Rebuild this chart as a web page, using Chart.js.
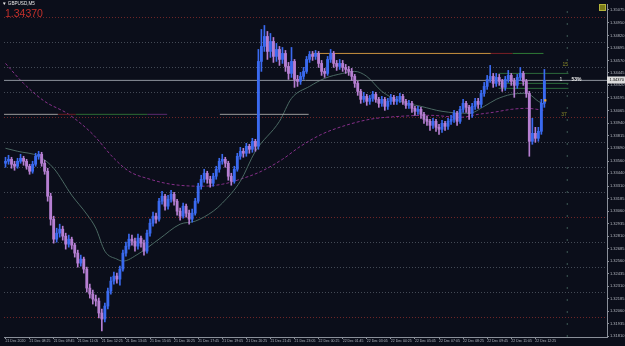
<!DOCTYPE html>
<html><head><meta charset="utf-8">
<script src="https://cdn.jsdelivr.net/npm/chart.js@4/dist/chart.umd.min.js"></script>
<style>
html,body{margin:0;padding:0;background:#0b0e1a;overflow:hidden;}
#wrap{position:relative;width:625px;height:346px;}
canvas{display:block;}
.t{position:absolute;font-family:'Liberation Sans',Arial,sans-serif;white-space:nowrap;line-height:1;}
</style></head><body>
<div id="wrap"><canvas id="c" width="625" height="346"></canvas>
<div class="t" style="left:2px;top:2px;font-size:4.6px;color:#e6e6e6">▼ GBPUSD,M5</div>
<div class="t" style="left:5px;top:8px;font-size:10.5px;color:#c3302b">1.34370</div>
<div style="position:absolute;left:599px;top:4px;width:5px;height:5px;background:#7c7c1a;border:1px solid #b4b43a"></div>
</div>
<script>
const symbolName = "GBPUSD,M5";
const timeLabels = ["21 Dec 2020","21 Dec 08:25","21 Dec 09:45","21 Dec 11:05","21 Dec 12:25","21 Dec 13:45","21 Dec 15:05","21 Dec 16:25","21 Dec 17:45","21 Dec 19:05","21 Dec 20:25","21 Dec 21:45","21 Dec 23:05","22 Dec 00:25","22 Dec 01:45","22 Dec 03:05","22 Dec 04:25","22 Dec 05:45","22 Dec 07:05","22 Dec 08:25","22 Dec 09:45","22 Dec 11:05","22 Dec 12:25"];
const timeLabelBars = [0,8,16,24,32,40,48,56,64,72,80,88,96,104,112,120,128,136,144,152,160,168,176];
const priceTicks = [1.35075,1.34950,1.34820,1.34695,1.34570,1.34445,1.34320,1.34195,1.34065,1.33940,1.33815,1.33690,1.33560,1.33440,1.33310,1.33185,1.33060,1.32935,1.32810,1.32685,1.32560,1.32435,1.32310,1.32185,1.32060,1.31935,1.31810];
const gridLevels = [1.3200,1.3225,1.3250,1.3275,1.3300,1.3325,1.3350,1.3375,1.3400,1.3425,1.3450,1.3475,1.3500];

const opens = [
1.3354,1.3356,1.3358,1.3353,1.3351,1.3356,1.3359,1.3356,1.3351,1.3346,
1.3353,1.3361,1.3363,1.3354,1.3346,1.3321,1.3298,1.3278,1.3284,1.3288,
1.3281,1.3273,1.3278,1.3272,1.3264,1.3254,1.3258,1.3248,1.3229,1.3223,
1.3218,1.3216,1.3204,1.3198,1.3211,1.3226,1.3236,1.3241,1.3238,1.3248,
1.3264,1.3271,1.3278,1.3276,1.3271,1.3279,1.3274,1.3266,1.3284,1.3294,
1.3301,1.3298,1.3316,1.3321,1.3311,1.3318,1.3323,1.3316,1.3306,1.3301,
1.3311,1.3304,1.3298,1.3304,1.3316,1.3331,1.3338,1.3344,1.3338,1.3334,
1.3341,1.3348,1.3356,1.3358,1.3354,1.3341,1.3336,1.3348,1.3361,1.3366,
1.3364,1.3371,1.3368,1.3376,1.3371,1.3456,1.3471,1.3481,1.3466,1.3476,
1.3461,1.3468,1.3458,1.3464,1.3451,1.3444,1.3456,1.3438,1.3436,1.3441,
1.3446,1.3458,1.3463,1.3461,1.3464,1.3454,1.3446,1.3444,1.3458,1.3464,
1.3454,1.3451,1.3454,1.3450,1.3448,1.3446,1.3441,1.3434,1.3426,1.3418,
1.3421,1.3416,1.3419,1.3423,1.3418,1.3414,1.3418,1.3411,1.3416,1.3420,
1.3416,1.3418,1.3421,1.3416,1.3412,1.3414,1.3409,1.3406,1.3408,1.3403,
1.3398,1.3396,1.3392,1.3396,1.3390,1.3388,1.3394,1.3391,1.3396,1.3398,
1.3404,1.3396,1.3408,1.3414,1.3410,1.3404,1.3411,1.3416,1.3413,1.3424,
1.3431,1.3438,1.3441,1.3434,1.3440,1.3436,1.3430,1.3438,1.3442,1.3436,
1.3432,1.3440,1.3444,1.3436,1.3424,1.3376,1.3384,1.3379,1.3386,1.3414];
const closes = [
1.3356,1.3358,1.3353,1.3351,1.3356,1.3359,1.3356,1.3351,1.3346,1.3353,
1.3361,1.3363,1.3354,1.3346,1.3321,1.3298,1.3278,1.3284,1.3288,1.3281,
1.3273,1.3278,1.3272,1.3264,1.3254,1.3258,1.3248,1.3229,1.3223,1.3218,
1.3216,1.3204,1.3198,1.3211,1.3226,1.3236,1.3241,1.3238,1.3248,1.3264,
1.3271,1.3278,1.3276,1.3271,1.3279,1.3274,1.3266,1.3284,1.3294,1.3301,
1.3298,1.3316,1.3321,1.3311,1.3318,1.3323,1.3316,1.3306,1.3301,1.3311,
1.3304,1.3298,1.3304,1.3316,1.3331,1.3338,1.3344,1.3338,1.3334,1.3341,
1.3348,1.3356,1.3358,1.3354,1.3341,1.3336,1.3348,1.3361,1.3366,1.3364,
1.3371,1.3368,1.3376,1.3371,1.3456,1.3471,1.3481,1.3466,1.3476,1.3461,
1.3468,1.3458,1.3464,1.3451,1.3444,1.3456,1.3438,1.3436,1.3441,1.3446,
1.3458,1.3463,1.3461,1.3464,1.3454,1.3446,1.3444,1.3458,1.3464,1.3454,
1.3451,1.3454,1.3450,1.3448,1.3446,1.3441,1.3434,1.3426,1.3418,1.3421,
1.3416,1.3419,1.3423,1.3418,1.3414,1.3418,1.3411,1.3416,1.3420,1.3416,
1.3418,1.3421,1.3416,1.3412,1.3414,1.3409,1.3406,1.3408,1.3403,1.3398,
1.3396,1.3392,1.3396,1.3390,1.3388,1.3394,1.3391,1.3396,1.3398,1.3404,
1.3396,1.3408,1.3414,1.3410,1.3404,1.3411,1.3416,1.3413,1.3424,1.3431,
1.3438,1.3441,1.3434,1.3440,1.3436,1.3430,1.3438,1.3442,1.3436,1.3432,
1.3440,1.3444,1.3436,1.3424,1.3376,1.3384,1.3379,1.3386,1.3414,1.3437];
const highs = [
1.3360,1.3362,1.3360,1.3356,1.3359,1.3363,1.3361,1.3358,1.3353,1.3356,
1.3364,1.3366,1.3365,1.3357,1.3349,1.3324,1.3301,1.3289,1.3293,1.3291,
1.3284,1.3282,1.3280,1.3274,1.3267,1.3262,1.3260,1.3250,1.3233,1.3227,
1.3222,1.3219,1.3208,1.3214,1.3229,1.3240,1.3245,1.3244,1.3251,1.3267,
1.3275,1.3283,1.3282,1.3279,1.3283,1.3281,1.3277,1.3287,1.3298,1.3305,
1.3304,1.3319,1.3326,1.3323,1.3322,1.3327,1.3325,1.3318,1.3309,1.3314,
1.3313,1.3307,1.3308,1.3319,1.3334,1.3342,1.3348,1.3346,1.3341,1.3344,
1.3351,1.3359,1.3363,1.3360,1.3356,1.3344,1.3351,1.3364,1.3370,1.3369,
1.3374,1.3373,1.3379,1.3378,1.3468,1.3488,1.3492,1.3486,1.3484,1.3480,
1.3474,1.3471,1.3470,1.3467,1.3455,1.3470,1.3458,1.3442,1.3445,1.3450,
1.3461,1.3466,1.3466,1.3467,1.3466,1.3457,1.3449,1.3461,1.3468,1.3466,
1.3457,1.3458,1.3457,1.3453,1.3451,1.3449,1.3443,1.3436,1.3428,1.3425,
1.3423,1.3422,1.3426,1.3425,1.3420,1.3421,1.3420,1.3419,1.3423,1.3422,
1.3421,1.3424,1.3423,1.3418,1.3417,1.3416,1.3411,1.3411,1.3410,1.3405,
1.3401,1.3398,1.3399,1.3398,1.3393,1.3397,1.3396,1.3399,1.3402,1.3407,
1.3406,1.3411,1.3418,1.3416,1.3412,1.3414,1.3419,1.3419,1.3427,1.3435,
1.3442,1.3452,1.3444,1.3444,1.3443,1.3438,1.3441,1.3447,1.3444,1.3439,
1.3443,1.3450,1.3446,1.3438,1.3426,1.3399,1.3390,1.3390,1.3418,1.3448];
const lows = [
1.3350,1.3353,1.3349,1.3347,1.3349,1.3354,1.3352,1.3348,1.3343,1.3344,
1.3351,1.3358,1.3351,1.3343,1.3316,1.3292,1.3274,1.3275,1.3280,1.3277,
1.3268,1.3270,1.3268,1.3260,1.3250,1.3251,1.3244,1.3225,1.3219,1.3213,
1.3211,1.3199,1.3186,1.3195,1.3208,1.3223,1.3233,1.3234,1.3232,1.3246,
1.3261,1.3268,1.3272,1.3266,1.3268,1.3270,1.3262,1.3264,1.3281,1.3291,
1.3294,1.3296,1.3313,1.3307,1.3308,1.3315,1.3312,1.3302,1.3297,1.3299,
1.3300,1.3293,1.3295,1.3302,1.3314,1.3328,1.3335,1.3334,1.3330,1.3331,
1.3338,1.3345,1.3353,1.3350,1.3337,1.3332,1.3334,1.3346,1.3358,1.3360,
1.3361,1.3364,1.3365,1.3366,1.3368,1.3446,1.3466,1.3458,1.3460,1.3455,
1.3456,1.3452,1.3454,1.3446,1.3438,1.3440,1.3430,1.3431,1.3433,1.3438,
1.3444,1.3455,1.3457,1.3458,1.3450,1.3442,1.3440,1.3442,1.3455,1.3450,
1.3447,1.3448,1.3446,1.3444,1.3442,1.3437,1.3430,1.3422,1.3414,1.3415,
1.3412,1.3413,1.3416,1.3415,1.3410,1.3411,1.3407,1.3408,1.3413,1.3413,
1.3413,1.3415,1.3413,1.3409,1.3409,1.3405,1.3402,1.3403,1.3399,1.3394,
1.3392,1.3387,1.3389,1.3386,1.3383,1.3385,1.3387,1.3388,1.3393,1.3395,
1.3392,1.3394,1.3405,1.3405,1.3398,1.3400,1.3408,1.3409,1.3410,1.3421,
1.3428,1.3435,1.3430,1.3431,1.3432,1.3426,1.3427,1.3435,1.3432,1.3420,
1.3429,1.3437,1.3432,1.3420,1.3361,1.3373,1.3375,1.3376,1.3383,1.3410];

// moving averages (bar index, price)
const maFastBars = [0,4,11,16,22,27,30,33,37,39,44,51,58,63,69,72,78,83,91,95,101,106,112,116,120,125,131,138,145,154,159,163,168,172,174,177,179];
const maFastValues = [1.3369,1.3366,1.3361,1.3349,1.3322,1.3303,1.3289,1.3266,1.3258,1.3256,1.3263,1.3278,1.3293,1.3296,1.3306,1.3314,1.3336,1.3366,1.3396,1.3419,1.3431,1.3439,1.3444,1.3446,1.3441,1.3426,1.3416,1.3411,1.3406,1.3404,1.3411,1.3418,1.3423,1.3424,1.3423,1.3416,1.3413];
const maSlowBars = [0,6,13,21,29,36,41,48,55,65,72,78,85,92,98,105,112,121,131,141,151,157,162,168,173,179];
const maSlowValues = [1.3454,1.3434,1.3416,1.3403,1.3383,1.3359,1.3346,1.3338,1.3333,1.3331,1.3333,1.3338,1.3346,1.3358,1.3371,1.3383,1.3391,1.3398,1.3401,1.3402,1.3400,1.3403,1.3405,1.3408,1.3409,1.3407];

// horizontal levels
const bidPrice = 1.34370;
const rangeLevelLow = 1.3403;
const rangeLevelHigh = 1.3464;
const rangeLowBreaks = [-1, 17.4, 23.3, 47.1, 53.7];
const rangeLowSecond = [71.2, 100.7];
const rangeHighBreaks = [101.7, 161.2, 168.4, 178.7];
const fibLevels = [1.3444, 1.3434, 1.3429];
const fibSpan = [163.8, 187];
const separatorBar = 186.6;
const markerBar = [179.3];
const markerPrice = [1.3417];
const noteTexts = ["15", "37", "1", "53%"];
const noteBars = [185, 184.6, 184, 188];
const notePrices = [1.3453, 1.3403, 1.3438, 1.3438];

const yMin = 1.3180, yMax = 1.35135, xMin = -0.5, xMax = 199.8;
const BULL = '#3a6af0', BEAR = '#b67fd2';

const idx = closes.map((_, i) => i);
const candleColor = ctx => closes[ctx.dataIndex] >= opens[ctx.dataIndex] ? BULL : BEAR;

function seg(a, b, p, color, extra) {
  return Object.assign({type:'line', data:[{x:a,y:p},{x:b,y:p}], borderColor:color, borderWidth:1,
    pointRadius:0, xAxisID:'x', yAxisID:'y', order:5}, extra || {});
}
const lowColors = ['#9a9a9a', '#6a1f22', '#2d6a34', '#5b2a6e'];
const highColors = ['#c8913e', '#7a2024', '#2f7a36'];
const levelSets = [];
for (let k = 0; k < rangeLowBreaks.length - 1; k++) levelSets.push(seg(rangeLowBreaks[k], rangeLowBreaks[k+1], rangeLevelLow, lowColors[k]));
levelSets.push(seg(rangeLowSecond[0], rangeLowSecond[1], rangeLevelLow, '#9a9a9a'));
for (let k = 0; k < rangeHighBreaks.length - 1; k++) levelSets.push(seg(rangeHighBreaks[k], rangeHighBreaks[k+1], rangeLevelHigh, highColors[k]));
fibLevels.forEach(p => levelSets.push(seg(fibSpan[0], fibSpan[1], p, '#2c6a3c')));
levelSets.push(seg(xMin, xMax, bidPrice, '#8e939c'));

const overlay = {
  id:'overlay',
  afterDraw(chart){
    const {ctx, chartArea, scales:{x, y}} = chart;
    ctx.save();
    const noteColors = ['#8f8f2a', '#8f8f2a', '#e8e8e8', '#e8e8e8'];
    ctx.textBaseline = 'middle';
    noteTexts.forEach((t, k) => {
      ctx.fillStyle = noteColors[k];
      ctx.font = (k === 3 ? 'bold ' : '') + '5px "Liberation Sans"';
      ctx.fillText(t, x.getPixelForValue(noteBars[k]), y.getPixelForValue(notePrices[k]));
    });
    const py = y.getPixelForValue(bidPrice);
    ctx.fillStyle = '#dcdcdc';
    ctx.fillRect(chartArea.right, Math.round(py) - 3.5, 18, 7);
    ctx.fillStyle = '#000';
    ctx.font = '4px "Liberation Sans"';
    ctx.fillText(bidPrice.toFixed(5), chartArea.right + 2.5, py);
    ctx.restore();
  }
};

new Chart(document.getElementById('c'), {
  type:'bar',
  data:{
    datasets:[
      {type:'line', data: maFastBars.map((b,k)=>({x:b,y:maFastValues[k]})), borderColor:'#4b6963', borderWidth:1, pointRadius:0, cubicInterpolationMode:'monotone', xAxisID:'x', yAxisID:'y', order:6},
      {type:'line', data: maSlowBars.map((b,k)=>({x:b,y:maSlowValues[k]})), borderColor:'#86308a', borderWidth:1, borderDash:[3,2], pointRadius:0, cubicInterpolationMode:'monotone', xAxisID:'x', yAxisID:'y', order:6},
      ...levelSets,
      {type:'line', data:[{x:separatorBar,y:yMin},{x:separatorBar,y:yMax}], borderColor:'#3e5a56', borderWidth:1, borderDash:[2,10], pointRadius:0, xAxisID:'x', yAxisID:'y', order:7},
      {label:'wicks', data: idx.map(i=>({x:i, y:[lows[i], highs[i]]})), backgroundColor:candleColor, barThickness:1, grouped:false, xAxisID:'x', yAxisID:'y', order:2},
      {label:'bodies', data: idx.map(i=>({x:i, y:[opens[i], closes[i]]})), backgroundColor:candleColor, barThickness:2.2, minBarLength:1, grouped:false, xAxisID:'x', yAxisID:'y', order:1},
      {type:'line', data: markerBar.map((b,k)=>({x:b,y:markerPrice[k]})), showLine:false, pointStyle:'rect', pointRadius:1.6, pointBackgroundColor:'#f0a830', pointBorderWidth:0, xAxisID:'x', yAxisID:'y', order:0}
    ]
  },
  options:{
    responsive:false, animation:false, events:[],
    layout:{padding:{left:1, top:2, right:0, bottom:0}},
    plugins:{legend:{display:false}, tooltip:{enabled:false}, title:{display:false}},
    scales:{
      x:{type:'linear', min:xMin, max:xMax, position:'bottom', offset:false,
        afterBuildTicks(s){ s.ticks = timeLabelBars.map(v=>({value:v})); },
        afterFit(s){ s.height = 9; s.paddingLeft = 0; s.paddingRight = 0; },
        ticks:{autoSkip:false, maxRotation:0, minRotation:0, align:'start', padding:0, color:'#b4b8c0',
          font:{family:'Liberation Sans', size:3.5}, callback:(v,i)=>timeLabels[i]},
        grid:{offset:false, drawOnChartArea:false, drawTicks:true, tickLength:2, color:'#8a8f99'},
        border:{display:true, color:'#8a8f99', width:1}},
      y:{type:'linear', min:yMin, max:yMax, position:'right',
        afterBuildTicks(s){ s.ticks = priceTicks.map(v=>({value:v})); },
        afterFit(s){ s.width = 18; },
        ticks:{padding:1, color:'#b4b8c0', font:{family:'Liberation Sans', size:4}, callback:v=>v.toFixed(5)},
        grid:{drawOnChartArea:false, drawTicks:true, tickLength:2, color:'#8a8f99'},
        border:{display:true, color:'#8a8f99', width:1}},
      yg:{type:'linear', min:yMin, max:yMax, position:'left',
        afterBuildTicks(s){ s.ticks = gridLevels.map(v=>({value:v})); },
        afterFit(s){ s.width = 0; },
        ticks:{display:false},
        grid:{drawTicks:false, lineWidth:1, color:c => {
          const v = c.tick ? c.tick.value : 0;
          return Math.abs(v*100 - Math.round(v*100)) < 1e-6 ? '#6e2628' : '#444a56'; }},
        border:{display:false, dash:[1,2]}}
    }
  },
  plugins:[overlay]
});
</script>
</body></html>
